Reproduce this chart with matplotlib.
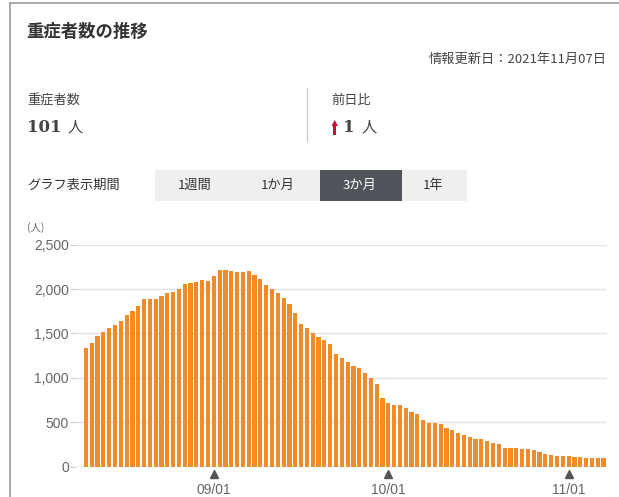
import matplotlib
matplotlib.use('Agg')
import matplotlib.pyplot as plt
from matplotlib.patches import Rectangle, Polygon
from matplotlib.lines import Line2D
from matplotlib.ticker import FuncFormatter
import pandas as pd

plt.rcParams['font.family'] = ['Noto Sans CJK JP', 'DejaVu Sans']

# daily severe cases, 2021-08-10 .. 2021-11-07
start_date = '2021-08-10'
severe = [1333, 1396, 1471, 1513, 1558, 1595, 1644, 1708, 1757, 1809,
          1884, 1884, 1892, 1926, 1960, 1971, 1997, 2057, 2065, 2076,
          2102, 2091, 2147, 2215, 2215, 2204, 2196, 2196, 2204, 2160,
          2113, 2046, 1997, 1960, 1896, 1832, 1727, 1607, 1558, 1502,
          1457, 1427, 1381, 1269, 1228, 1183, 1137, 1107, 1059, 995,
          927, 777, 721, 694, 694, 657, 612, 589, 526, 496,
          488, 477, 439, 413, 375, 357, 330, 312, 308, 293,
          270, 259, 214, 210, 206, 203, 195, 184, 165, 139,
          128, 120, 120, 116, 109, 105, 101, 98, 100, 101]
tick_dates = ['2021-09-01', '2021-10-01', '2021-11-01']
y_ticks = [0, 500, 1000, 1500, 2000, 2500]
periods = ['1週間', '1か月', '3か月', '1年']

dates = pd.date_range(start_date, periods=len(severe))

W, H = 619, 497
fig = plt.figure(figsize=(W / 100, H / 100), dpi=100)


def fx(px):
    return px / W


def fy(py):
    return 1 - py / H


# frame of the card
fig.add_artist(Line2D([fx(10), fx(10)], [fy(3), fy(497)], color='#9a9a9a', lw=1.2))
fig.add_artist(Line2D([fx(10), fx(619)], [fy(3), fy(3)], color='#9a9a9a', lw=1.2))

fig.text(fx(26), fy(32), '重症者数の推移', fontsize=12.5, fontweight='bold', color='#333333', va='center')
fig.text(fx(607), fy(59), '情報更新日：2021年11月07日', fontsize=9.5, color='#444444', va='center', ha='right')

fig.text(fx(27), fy(100), '重症者数', fontsize=9.5, color='#444444', va='center')
fig.text(fx(27), fy(127), '101', fontsize=12, fontweight='bold', family='DejaVu Serif',
         color='#444444', va='center')
fig.text(fx(68), fy(127), '人', fontsize=11, color='#444444', va='center')

fig.add_artist(Line2D([fx(307), fx(307)], [fy(88), fy(141)], color='#cccccc', lw=1))
fig.text(fx(331), fy(100), '前日比', fontsize=9.5, color='#444444', va='center')
# red up arrow
fig.add_artist(Rectangle((fx(333), fy(135)), fx(3.5), 9 / H, color='#c8102e', lw=0))
fig.add_artist(Polygon([[fx(331.5), fy(126)], [fx(334.75), fy(120)], [fx(338), fy(126)]],
                       closed=True, color='#c8102e', lw=0))
fig.text(fx(343), fy(127), '1', fontsize=12, fontweight='bold', family='DejaVu Serif',
         color='#444444', va='center')
fig.text(fx(362), fy(127), '人', fontsize=11, color='#444444', va='center')

# period selector
fig.text(fx(27), fy(185), 'グラフ表示期間', fontsize=9.5, color='#333333', va='center')
fig.add_artist(Rectangle((fx(155), fy(201)), fx(312), 31 / H, color='#efefef', lw=0))
fig.add_artist(Rectangle((fx(320), fy(201)), fx(82), 31 / H, color='#4f555b', lw=0))
btn_x = [195, 278, 360, 433]
for label, bx in zip(periods, btn_x):
    col = 'white' if label == '3か月' else '#333333'
    fig.text(fx(bx), fy(185), label, fontsize=9.5, color=col, va='center', ha='center')

fig.text(fx(27), fy(228), '(人)', fontsize=7.5, color='#666666', va='center')

# chart
ax = fig.add_axes([fx(76), fy(466.7), fx(607 - 76), (466.7 - 244.7) / H])
ax.bar(dates, severe, width=0.72, color='#f08b2a', zorder=2)
ax.set_ylim(0, 2500)
ax.set_xlim(dates[0] - pd.Timedelta(days=1.7), dates[-1] + pd.Timedelta(days=0.6))
ax.set_yticks(y_ticks)
ax.yaxis.set_major_formatter(FuncFormatter(lambda v, p: f'{int(v):,}'))
ax.grid(axis='y', color='#e3e3e3', lw=1, zorder=0)
for s in ax.spines.values():
    s.set_visible(False)
ax.axhline(0, color='#cfcfcf', lw=1, zorder=1)
ax.tick_params(axis='y', length=4, color='#d0d0d0', pad=1, labelsize=10, labelcolor='#666666')
for lab in ax.get_yticklabels():
    lab.set_family('Liberation Sans')

tds = pd.to_datetime(tick_dates)
ax.set_xticks(tds)
ax.set_xticklabels([d.strftime('%m/%d') for d in tds], family='Liberation Sans',
                   fontsize=10, color='#666666')
ax.tick_params(axis='x', length=0, pad=12)
trans = ax.get_xaxis_transform()
ax.plot(tds, [-0.035] * len(tds), marker='^', ms=6, color='#555555', ls='none',
        transform=trans, clip_on=False)

fig.savefig('out.png', dpi=100)
